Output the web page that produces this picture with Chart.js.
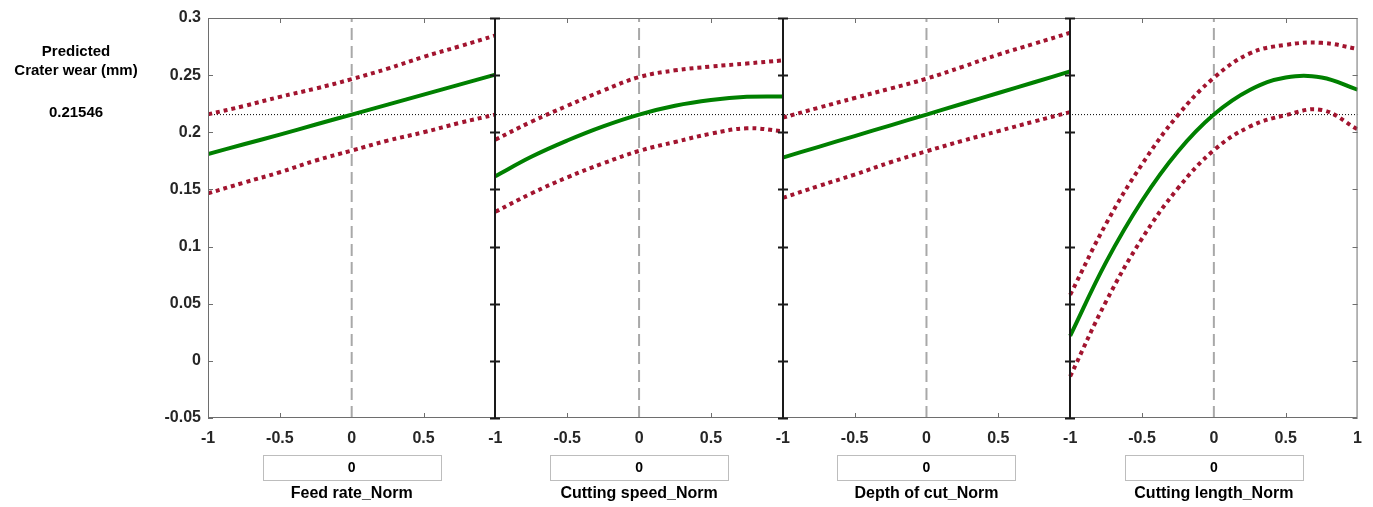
<!DOCTYPE html>
<html>
<head>
<meta charset="utf-8">
<script src="https://cdn.jsdelivr.net/npm/chart.js@4/dist/chart.umd.min.js"></script>
<style>
    html, body { margin: 0; padding: 0; background: #fff; }
    #wrap { width: 1373px; height: 507px; position: relative; }
</style>
</head>
<body>
<div id="wrap"><canvas id="sliceChart" width="1373" height="507"></canvas></div>
<script>
// x positions sampled along each normalised factor
const xPoints = [-1, -0.75, -0.5, -0.25, 0, 0.25, 0.5, 0.75, 1];

const factorNames = ['Feed rate_Norm', 'Cutting speed_Norm', 'Depth of cut_Norm', 'Cutting length_Norm'];
const sliderValues = [0, 0, 0, 0];

const predictedValue = 0.21546;
const responseName = ['Predicted', 'Crater wear (mm)'];

const yTicks = [-0.05, 0, 0.05, 0.1, 0.15, 0.2, 0.25, 0.3];
const xTicks = [-1, -0.5, 0, 0.5, 1];

// Feed rate
const feedPred  = [0.181, 0.1895, 0.198, 0.2068, 0.2155, 0.2242, 0.233, 0.2417, 0.2504];
const feedUpper = [0.2157, 0.223, 0.231, 0.2383, 0.2465, 0.2557, 0.266, 0.2752, 0.2847];
const feedLower = [0.1465, 0.156, 0.165, 0.1753, 0.184, 0.1927, 0.200, 0.2082, 0.2155];

// Cutting speed
const speedPred  = [0.1616, 0.1786, 0.1928, 0.2052, 0.2155, 0.2232, 0.2282, 0.231, 0.2314];
const speedUpper = [0.1936, 0.2092, 0.2232, 0.2365, 0.2483, 0.2542, 0.2575, 0.2602, 0.2629];
const speedLower = [0.1304, 0.1465, 0.1605, 0.1728, 0.1837, 0.1915, 0.1988, 0.2035, 0.2009];

// Depth of cut
const depthPred  = [0.1779, 0.1873, 0.1967, 0.2061, 0.2155, 0.225, 0.2344, 0.2438, 0.2533];
const depthUpper = [0.2128, 0.2215, 0.230, 0.2383, 0.2469, 0.2573, 0.268, 0.2775, 0.2871];
const depthLower = [0.1426, 0.153, 0.163, 0.1738, 0.1834, 0.1925, 0.201, 0.2095, 0.2177];

// Cutting length
const lengthPred  = [0.0219, 0.0864, 0.1401, 0.1832, 0.2155, 0.237, 0.2479, 0.248, 0.2373];
const lengthUpper = [0.0577, 0.120, 0.172, 0.215, 0.2477, 0.269, 0.2765, 0.2783, 0.273];
const lengthLower = [-0.0136, 0.052, 0.107, 0.151, 0.1843, 0.205, 0.215, 0.2195, 0.2026];

const panels = [
    { pred: feedPred, upper: feedUpper, lower: feedLower },
    { pred: speedPred, upper: speedUpper, lower: speedLower },
    { pred: depthPred, upper: depthUpper, lower: depthLower },
    { pred: lengthPred, upper: lengthUpper, lower: lengthLower }
];

const PANEL_SPAN = 2;
const FONT = '"Liberation Sans", Arial, Helvetica, sans-serif';
const GREEN = '#008000';
const RED = '#A2142F';

Chart.defaults.font.family = FONT;

function toPoints(values, panel) {
    return values.map((v, i) => ({ x: xPoints[i] + panel * PANEL_SPAN, y: v }));
}

const datasets = [];
panels.forEach((p, i) => {
    datasets.push({
        data: toPoints(p.pred, i),
        borderColor: GREEN,
        borderWidth: 4,
        tension: 0.4
    });
    datasets.push({
        data: toPoints(p.upper, i),
        borderColor: RED,
        borderWidth: 4,
        borderDash: [4, 4],
        tension: 0.4
    });
    datasets.push({
        data: toPoints(p.lower, i),
        borderColor: RED,
        borderWidth: 4,
        borderDash: [4, 4],
        tension: 0.4
    });
});

// current slider positions (dashed grey verticals)
sliderValues.forEach((v, i) => {
    datasets.push({
        data: [{ x: v + i * PANEL_SPAN, y: yTicks[0] }, { x: v + i * PANEL_SPAN, y: yTicks[yTicks.length - 1] }],
        borderColor: '#a8a8a8',
        borderWidth: 2,
        borderDash: [12, 6]
    });
});

// predicted value (thin black dotted horizontal)
datasets.push({
    data: [{ x: -1, y: predictedValue }, { x: panels.length * PANEL_SPAN - 1, y: predictedValue }],
    borderColor: '#000',
    borderWidth: 1,
    borderDash: [1, 2]
});

const framePlugin = {
    id: 'frame',
    afterDatasetsDraw(chart) {
        const { ctx, chartArea: a, scales: { x, y } } = chart;
        const tl = 5;
        ctx.save();
        ctx.strokeStyle = '#6e6e6e';
        ctx.lineWidth = 1;
        ctx.strokeRect(a.left + 0.5, a.top + 0.5, a.width - 1, a.height - 1);

        ctx.beginPath();
        yTicks.forEach(v => {
            const py = Math.round(y.getPixelForValue(v)) + 0.5;
            ctx.moveTo(a.left, py); ctx.lineTo(a.left + tl, py);
            ctx.moveTo(a.right - tl, py); ctx.lineTo(a.right, py);
        });
        panels.forEach((p, i) => {
            [-0.5, 0.5].forEach(t => {
                const px = Math.round(x.getPixelForValue(t + i * PANEL_SPAN)) + 0.5;
                ctx.moveTo(px, a.top); ctx.lineTo(px, a.top + tl);
                ctx.moveTo(px, a.bottom); ctx.lineTo(px, a.bottom - tl);
            });
        });
        ctx.stroke();

        // panel separators
        ctx.strokeStyle = '#1a1a1a';
        ctx.lineWidth = 2;
        ctx.beginPath();
        for (let i = 1; i < panels.length; i++) {
            const px = Math.round(x.getPixelForValue(i * PANEL_SPAN - 1));
            ctx.moveTo(px, a.top); ctx.lineTo(px, a.bottom);
            yTicks.forEach(v => {
                const py = Math.round(y.getPixelForValue(v)) + 0.5;
                ctx.moveTo(px - tl, py); ctx.lineTo(px + tl, py);
            });
        }
        ctx.stroke();
        ctx.restore();
    },
    afterDraw(chart) {
        const { ctx, scales: { x } } = chart;
        ctx.save();
        ctx.textAlign = 'center';
        ctx.textBaseline = 'middle';

        // response name and current value on the left
        ctx.fillStyle = '#000';
        ctx.font = 'bold 15px ' + FONT;
        ctx.fillText(responseName[0], 76, 52);
        ctx.fillText(responseName[1], 76, 71);
        ctx.fillText(String(predictedValue), 76, 113);

        // value boxes and factor names under each panel
        factorNames.forEach((name, i) => {
            const cx = x.getPixelForValue(i * PANEL_SPAN);
            ctx.fillStyle = '#fff';
            ctx.fillRect(cx - 89, 455, 178, 25);
            ctx.strokeStyle = '#bdbdbd';
            ctx.lineWidth = 1;
            ctx.strokeRect(Math.round(cx - 89) + 0.5, 455.5, 178, 25);
            ctx.fillStyle = '#000';
            ctx.font = 'bold 14px ' + FONT;
            ctx.fillText(String(sliderValues[i]), cx, 468);
            ctx.font = 'bold 16px ' + FONT;
            ctx.fillText(name, cx, 494);
        });
        ctx.restore();
    }
};

new Chart(document.getElementById('sliceChart'), {
    type: 'line',
    data: { datasets },
    plugins: [framePlugin],
    options: {
        responsive: false,
        devicePixelRatio: 1,
        animation: false,
        layout: { padding: { top: 18, right: 14, left: 0, bottom: 0 } },
        elements: { point: { radius: 0 } },
        plugins: {
            legend: { display: false },
            tooltip: { enabled: false }
        },
        scales: {
            x: {
                type: 'linear',
                min: -1,
                max: panels.length * PANEL_SPAN - 1,
                afterBuildTicks: scale => {
                    const ticks = [];
                    panels.forEach((p, i) => {
                        xTicks.forEach(t => {
                            if (i > 0 && t === -1) return;
                            ticks.push({ value: t + i * PANEL_SPAN });
                        });
                    });
                    scale.ticks = ticks;
                },
                afterFit: scale => { scale.height = 89; },
                grid: { display: false, drawTicks: false },
                border: { display: false },
                ticks: {
                    autoSkip: false,
                    maxRotation: 0,
                    padding: 11,
                    color: '#262626',
                    font: { size: 16, weight: 'bold' },
                    callback: value => {
                        const last = panels.length * PANEL_SPAN - 1;
                        if (value === last) return '1';
                        let local = ((value + 1) % PANEL_SPAN) - 1;
                        return String(parseFloat(local.toFixed(2)));
                    }
                }
            },
            y: {
                min: yTicks[0],
                max: yTicks[yTicks.length - 1],
                afterBuildTicks: scale => {
                    scale.ticks = yTicks.map(v => ({ value: v }));
                },
                afterFit: scale => { scale.width = 208; },
                grid: { display: false, drawTicks: false },
                border: { display: false },
                ticks: {
                    padding: 7,
                    color: '#262626',
                    font: { size: 16, weight: 'bold' },
                    callback: value => String(parseFloat(value.toFixed(2)))
                }
            }
        }
    }
});
</script>
</body>
</html>
